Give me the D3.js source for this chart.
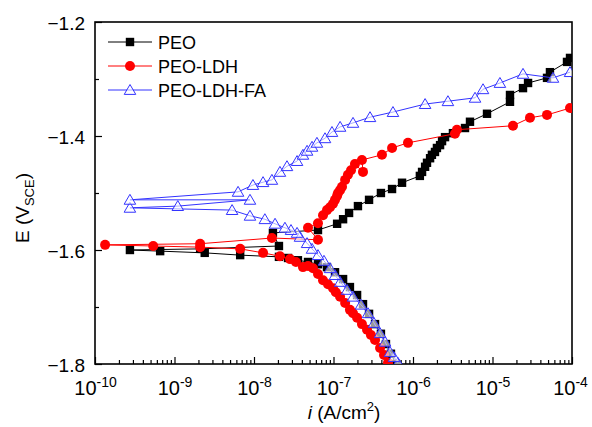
<!DOCTYPE html>
<html><head><meta charset="utf-8">
<script src="https://cdn.jsdelivr.net/npm/d3@7"></script>
<style>
body{margin:0;background:#fff}
text{font-family:Arial,"Liberation Sans",sans-serif;fill:#000}
</style>
</head><body>
<svg id="c" width="592" height="427"></svg>
<script>
// ---- data: [current density (A/cm2), potential (V vs SCE)] ----
const seriesNames = ["PEO", "PEO-LDH", "PEO-LDH-FA"];
const peo = [
 [6.11e-7,-1.800],[5.28e-7,-1.782],[4.57e-7,-1.765],[3.95e-7,-1.747],[3.33e-7,-1.730],
 [2.80e-7,-1.712],[2.35e-7,-1.695],[1.98e-7,-1.679],[1.61e-7,-1.665],[1.32e-7,-1.651],
 [1.045e-7,-1.639],[8.28e-8,-1.630],[6.38e-8,-1.625],[4.78e-8,-1.621],[3.57e-8,-1.618],
 [2.68e-8,-1.614],[2.06e-8,-1.612],[6.7e-9,-1.609],[2.4e-9,-1.605],[6.6e-10,-1.602],
 [2.75e-10,-1.600],[2.1e-9,-1.598],[2.06e-8,-1.593],[1.73e-8,-1.570],[6.38e-8,-1.565],
 [1.11e-7,-1.554],[1.32e-7,-1.546],[1.57e-7,-1.535],[2.03e-7,-1.523],[2.80e-7,-1.512],
 [3.95e-7,-1.500],[5.45e-7,-1.493],[7.28e-7,-1.482],[1.22e-6,-1.470],[1.30e-6,-1.463],
 [1.42e-6,-1.454],[1.50e-6,-1.447],[1.64e-6,-1.439],[1.73e-6,-1.433],[1.89e-6,-1.428],
 [2.00e-6,-1.421],[2.19e-6,-1.416],[2.32e-6,-1.409],[2.53e-6,-1.402],[3.18e-6,-1.395],
 [4.51e-6,-1.386],[5.21e-6,-1.375],[8.53e-6,-1.361],[1.66e-5,-1.340],[1.66e-5,-1.328],
 [2.42e-5,-1.316],[2.80e-5,-1.307],[4.85e-5,-1.298],[5.28e-5,-1.288],[8.65e-5,-1.270],
 [9.44e-5,-1.263]
];
const peoLdh = [
 [4.85e-7,-1.798],[4.32e-7,-1.784],[3.85e-7,-1.772],[3.33e-7,-1.758],[2.96e-7,-1.749],
 [2.64e-7,-1.740],[2.28e-7,-1.730],[1.98e-7,-1.719],[1.76e-7,-1.711],[1.61e-7,-1.705],
 [1.40e-7,-1.693],[1.21e-7,-1.682],[1.07e-7,-1.674],[9.86e-8,-1.667],[8.53e-8,-1.660],
 [7.38e-8,-1.653],[6.38e-8,-1.642],[5.52e-8,-1.632],[4.78e-8,-1.628],[4.13e-8,-1.630],
 [3.37e-8,-1.621],[2.84e-8,-1.616],[2.12e-8,-1.611],[1.30e-8,-1.605],[6.7e-9,-1.598],
 [2.1e-9,-1.595],[5.4e-10,-1.593],[1.34e-10,-1.591],[2.1e-9,-1.589],[1.68e-8,-1.579],
 [6.38e-8,-1.582],[4.78e-8,-1.561],[6.38e-8,-1.553],[7.38e-8,-1.539],[8.28e-8,-1.530],
 [9.04e-8,-1.525],[9.86e-8,-1.519],[1.045e-7,-1.512],[1.11e-7,-1.505],[1.14e-7,-1.500],
 [1.21e-7,-1.495],[1.28e-7,-1.489],[1.40e-7,-1.477],[1.52e-7,-1.468],[1.66e-7,-1.460],
 [1.86e-7,-1.449],[2.35e-7,-1.463],[2.28e-7,-1.442],[4.07e-7,-1.433],[5.45e-7,-1.421],
 [8.65e-7,-1.412],[3.37e-6,-1.396],[3.57e-6,-1.389],[1.81e-5,-1.382],[2.96e-5,-1.368],
 [4.85e-5,-1.363],[9.44e-5,-1.351]
];
const peoLdhFa = [
 [6.47e-7,-1.798],[5.77e-7,-1.788],[5.14e-7,-1.779],[4.45e-7,-1.761],[3.85e-7,-1.746],
 [3.23e-7,-1.728],[2.72e-7,-1.711],[2.22e-7,-1.696],[1.76e-7,-1.682],[1.48e-7,-1.670],
 [1.21e-7,-1.656],[1.045e-7,-1.644],[9.04e-8,-1.632],[7.59e-8,-1.619],[6.38e-8,-1.609],
 [5.37e-8,-1.598],[4.65e-8,-1.588],[3.79e-8,-1.577],[3.48e-8,-1.570],[2.92e-8,-1.565],
 [2.45e-8,-1.561],[1.84e-8,-1.554],[1.37e-8,-1.546],[8.9e-9,-1.540],[5.3e-9,-1.530],
 [2.75e-10,-1.526],[1.1e-9,-1.523],[8.9e-9,-1.512],[2.75e-10,-1.512],[6.3e-9,-1.498],
 [9.7e-9,-1.486],[1.30e-8,-1.481],[1.68e-8,-1.477],[2.12e-8,-1.463],[2.6e-8,-1.453],
 [3.48e-8,-1.444],[4.13e-8,-1.433],[4.65e-8,-1.426],[5.37e-8,-1.419],[6.19e-8,-1.412],
 [7.82e-8,-1.404],[9.57e-8,-1.393],[1.21e-7,-1.384],[1.76e-7,-1.377],[2.88e-7,-1.367],
 [5.60e-7,-1.358],[1.42e-6,-1.344],[2.75e-6,-1.339],[6.03e-6,-1.333],[7.60e-6,-1.318],
 [1.24e-5,-1.307],[2.42e-5,-1.291],[5.77e-5,-1.298],[9.44e-5,-1.288]
];
const xTickValues = [1e-10, 1e-9, 1e-8, 1e-7, 1e-6, 1e-5, 1e-4];
const xTickExponents = ["-10", "-9", "-8", "-7", "-6", "-5", "-4"];
const yTickValues = [-1.8, -1.6, -1.4, -1.2];
const yMinorValues = [-1.7, -1.5, -1.3];

// ---- layout ----
const L = 95, R = 572, T = 22, B = 364;
const svg = d3.select("#c");
const x = d3.scaleLog().domain([1e-10, 1e-4]).range([L, R]);
const y = d3.scaleLinear().domain([-1.8, -1.2]).range([B, T]);

// minor x ticks
const xMinor = [];
for (let e = -10; e < -4; e++) for (let m = 2; m <= 9; m++) xMinor.push(m * Math.pow(10, e));

// axes
const gx = svg.append("g").attr("transform", `translate(0,${B})`)
  .call(d3.axisBottom(x).tickValues(xTickValues).tickSizeInner(-7).tickSizeOuter(0).tickPadding(0).tickFormat(() => "10"));
gx.selectAll(".tick text").each(function(d, i) {
  const t = d3.select(this);
  t.text(null).attr("font-size", 20).attr("text-anchor", "middle").attr("dy", null).attr("y", 31)
    .attr("dx", i === xTickValues.length - 1 ? -2 : 0);
  t.append("tspan").text("10");
  t.append("tspan").text(xTickExponents[i]).attr("font-size", 14).attr("dy", -8);
});
svg.append("g").attr("transform", `translate(0,${B})`)
  .call(d3.axisBottom(x).tickValues(xMinor).tickSizeInner(-4).tickSizeOuter(0).tickFormat(""));

const gy = svg.append("g").attr("transform", `translate(${L},0)`)
  .call(d3.axisLeft(y).tickValues(yTickValues).tickSizeInner(-7).tickSizeOuter(0).tickPadding(10).tickFormat(d3.format(".1f")));
gy.selectAll(".tick text").attr("font-size", 19).attr("dy", "0.42em");
svg.append("g").attr("transform", `translate(${L},0)`)
  .call(d3.axisLeft(y).tickValues(yMinorValues).tickSizeInner(-4).tickSizeOuter(0).tickFormat(""));

svg.selectAll(".domain").remove();
svg.selectAll(".tick line").attr("stroke", "#000").attr("stroke-width", 1.2);

// frame
svg.append("rect").attr("x", L).attr("y", T).attr("width", R - L).attr("height", B - T)
  .attr("fill", "none").attr("stroke", "#000").attr("stroke-width", 1.6);

// series
const line = d3.line().x(d => x(d[0])).y(d => y(d[1]));
svg.append("clipPath").attr("id", "clp").append("rect")
  .attr("x", L).attr("y", T - 6).attr("width", R - L).attr("height", B - T + 6);

const styles = [
  {data: peo, color: "#000", marker: "square"},
  {data: peoLdh, color: "#ff0000", marker: "circle"},
  {data: peoLdhFa, color: "#3333ff", marker: "triangle"}
];
function drawMarker(g, type, color, cx, cy) {
  if (type === "square") {
    g.append("rect").attr("x", cx - 4.2).attr("y", cy - 4.2).attr("width", 8.4).attr("height", 8.4).attr("fill", color);
  } else if (type === "circle") {
    g.append("circle").attr("cx", cx).attr("cy", cy).attr("r", 5).attr("fill", color);
  } else {
    const s = 5.5;
    g.append("path").attr("d", `M${cx},${cy - s}L${cx + s * 1.05},${cy + s * 0.8}L${cx - s * 1.05},${cy + s * 0.8}Z`)
      .attr("fill", "#fff").attr("fill-opacity", 0.6).attr("stroke", color).attr("stroke-width", 1);
  }
}
const plot = svg.append("g").attr("clip-path", "url(#clp)");
styles.forEach(s => {
  const g = plot.append("g");
  g.append("path").datum(s.data).attr("d", line).attr("fill", "none").attr("stroke", s.color).attr("stroke-width", 1);
  s.data.forEach(d => drawMarker(g, s.marker, s.color, x(d[0]), y(d[1])));
});

// legend
const legY = [42, 66, 90];
styles.forEach((s, i) => {
  const g = svg.append("g");
  g.append("line").attr("x1", 108).attr("x2", 152).attr("y1", legY[i]).attr("y2", legY[i])
    .attr("stroke", s.color).attr("stroke-width", 1);
  drawMarker(g, s.marker, s.color, 130, legY[i]);
  g.append("text").attr("x", 158).attr("y", legY[i] + 6.5).attr("font-size", 18).text(seriesNames[i]);
});

// axis titles
const yt = svg.append("text").attr("transform", "translate(29,208) rotate(-90)")
  .attr("text-anchor", "middle").attr("font-size", 19);
yt.append("tspan").text("E (V");
yt.append("tspan").text("SCE").attr("font-size", 13).attr("dy", 5);
yt.append("tspan").text(")").attr("dy", -5);

const xt = svg.append("text").attr("x", 344).attr("y", 419).attr("text-anchor", "middle").attr("font-size", 19);
xt.append("tspan").text("i").attr("font-style", "italic");
xt.append("tspan").text(" (A/cm");
xt.append("tspan").text("2").attr("font-size", 13).attr("dy", -8);
xt.append("tspan").text(")").attr("dy", 8);
</script>
</body></html>
